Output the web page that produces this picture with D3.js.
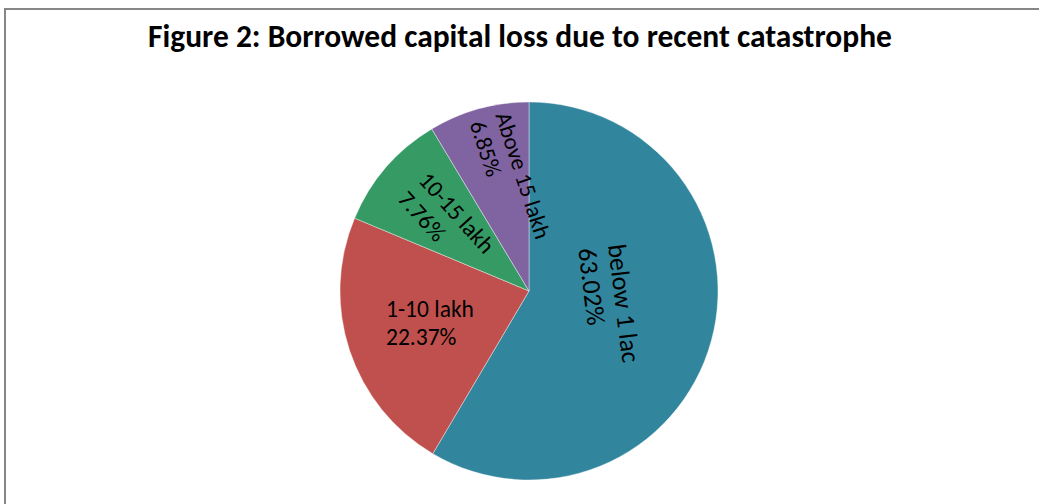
<!DOCTYPE html>
<html>
<head>
<meta charset="utf-8">
<script src="https://cdn.jsdelivr.net/npm/d3@7"></script>
<style>
  body { margin: 0; background: #fff; }
  svg { display: block; }
</style>
</head>
<body>
<svg id="chart" width="1039" height="504"></svg>
<script>
//// DATA

const title = "Figure 2: Borrowed capital loss due to recent catastrophe"
const categories = ["below 1 lac", "1-10 lakh", "10-15 lakh", "Above 15 lakh"]
// percentages printed on the labels
const labelPercents = [63.02, 22.37, 7.76, 6.85]
// slice sizes as drawn in the picture (they do not follow the printed labels exactly)
const sliceShares = [58.5, 22.8, 10.1, 8.6]

//// STYLE

const sliceColors = ["#31869D", "#C0504D", "#369A65", "#8064A2"]
const fontFamily = "Carlito, Calibri, Lato, sans-serif"

// label anchor (left edge, middle of the two lines) relative to pie centre, rotation, size
const labelLayout = [
  { dx: 73, dy: -45, rotate: 83, size: 26, lineH: 30 },
  { dx: -143, dy: 32, rotate: 0, size: 23.5, lineH: 28 },
  { dx: -116, dy: -106, rotate: 48, size: 23.5, lineH: 28 },
  { dx: -39, dy: -174, rotate: 72, size: 23, lineH: 27 }
]

const width = 1039
const height = 504
const cx = 529
const cy = 291
const radius = 189

const svg = d3.select("#chart")

// outer frame of the chart area
svg.append("rect")
  .attr("x", 5)
  .attr("y", 9)
  .attr("width", width + 20)
  .attr("height", height + 20)
  .attr("fill", "none")
  .attr("stroke", "#868686")
  .attr("stroke-width", 2)

// title, fitted to the width it has in the reference
const titleText = svg.append("text")
  .attr("x", 520)
  .attr("y", 47)
  .attr("text-anchor", "middle")
  .attr("font-family", fontFamily)
  .attr("font-weight", "bold")
  .attr("font-size", 28)
  .attr("fill", "#000")
  .text(title)
const tw = titleText.node().getComputedTextLength()
titleText.attr("font-size", 28 * 744 / tw)

const data = categories.map((c, i) => ({ label: c, value: sliceShares[i], pct: labelPercents[i] }))

const pie = d3.pie()
  .sort(null)
  .value(d => d.value)

const arc = d3.arc()
  .innerRadius(0)
  .outerRadius(radius)

const g = svg.append("g")
  .attr("transform", `translate(${cx},${cy})`)

g.selectAll(".slice")
  .data(pie(data))
  .join("path")
  .attr("class", "slice")
  .attr("d", arc)
  .attr("fill", (d, i) => sliceColors[i])
  .attr("stroke", "#ffffff")
  .attr("stroke-width", 0.4)

// data labels: category + percentage, left aligned, rotated
const labels = g.selectAll(".label")
  .data(pie(data))
  .join("g")
  .attr("class", "label")
  .attr("transform", (d, i) => {
    const l = labelLayout[i]
    return `translate(${l.dx},${l.dy}) rotate(${l.rotate})`
  })

labels.append("text")
  .attr("y", (d, i) => -labelLayout[i].lineH / 2)
  .attr("dominant-baseline", "central")
  .attr("font-family", fontFamily)
  .attr("font-size", (d, i) => labelLayout[i].size)
  .attr("fill", "#000")
  .text(d => d.data.label)

labels.append("text")
  .attr("y", (d, i) => labelLayout[i].lineH / 2)
  .attr("dominant-baseline", "central")
  .attr("font-family", fontFamily)
  .attr("font-size", (d, i) => labelLayout[i].size)
  .attr("fill", "#000")
  .text(d => d.data.pct.toFixed(2) + "%")
</script>
</body>
</html>
